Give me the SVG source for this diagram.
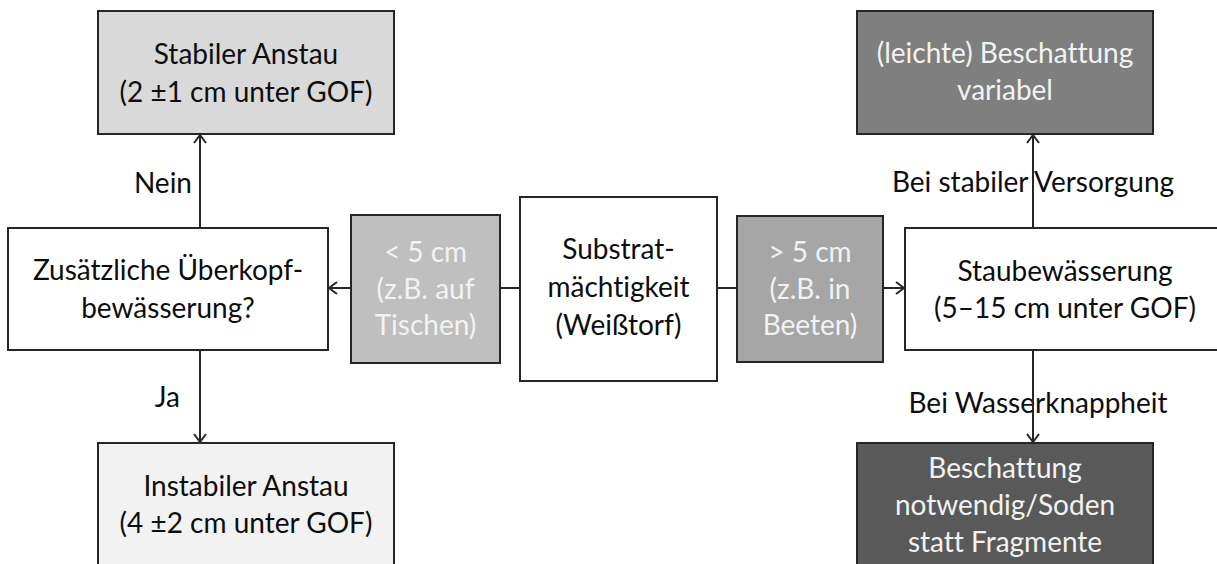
<svg xmlns="http://www.w3.org/2000/svg" width="1217" height="564" viewBox="0 0 1217 564">
<style>
  .box { stroke: #262626; stroke-width: 2; }
  text { font-family: Lato, "Open Sans", "Liberation Sans", sans-serif; font-size: 28px; text-anchor: middle; fill: #0d0d0d; font-variant-ligatures: none; }
  .light { fill: #f2f2f2; }
  .end { text-anchor: end; }
  .conn { stroke: #262626; stroke-width: 2; fill: none; }
</style>
<defs>
  <marker id="arr" viewBox="0 0 10 14" refX="9" refY="7" markerWidth="10" markerHeight="14" markerUnits="userSpaceOnUse" orient="auto">
    <path d="M1,1 L9,7 L1,13" fill="none" stroke="#262626" stroke-width="2"/>
  </marker>
</defs>
<rect width="1217" height="564" fill="#ffffff"/>

<g id="stabil">
  <rect class="box" x="98" y="11" width="296" height="123" fill="#d9d9d9"/>
  <text x="246" y="64">Stabiler Anstau</text>
  <text x="246" y="102">(2 ±1 cm unter GOF)</text>
</g>
<g id="zusaetzlich">
  <rect class="box" x="8" y="228" width="320" height="122" fill="#ffffff"/>
  <text x="168" y="280">Zusätzliche Überkopf-</text>
  <text x="168" y="318">bewässerung?</text>
</g>
<g id="instabil">
  <rect class="box" x="98" y="443" width="296" height="124" fill="#f2f2f2"/>
  <text x="246" y="496">Instabiler Anstau</text>
  <text x="246" y="533">(4 ±2 cm unter GOF)</text>
</g>
<g id="klein">
  <rect class="box" x="351" y="215" width="149" height="148" fill="#bfbfbf"/>
  <text class="light" x="425.5" y="262">&lt; 5 cm</text>
  <text class="light" x="425.5" y="299">(z.B. auf</text>
  <text class="light" x="425.5" y="335">Tischen)</text>
</g>
<g id="substrat">
  <rect class="box" x="520" y="197" width="197" height="184" fill="#ffffff"/>
  <text x="618.5" y="259">Substrat-</text>
  <text x="618.5" y="297">mächtigkeit</text>
  <text x="618.5" y="335">(Weißtorf)</text>
</g>
<g id="gross">
  <rect class="box" x="737" y="216" width="146" height="146" fill="#a6a6a6"/>
  <text class="light" x="810" y="262">&gt; 5 cm</text>
  <text class="light" x="810" y="299">(z.B. in</text>
  <text class="light" x="810" y="335">Beeten)</text>
</g>
<g id="staub">
  <rect class="box" x="905" y="228" width="330" height="122" fill="#ffffff"/>
  <text x="1065" y="281">Staubewässerung</text>
  <text x="1065" y="318">(5–15 cm unter GOF)</text>
</g>
<g id="leicht">
  <rect class="box" x="857" y="11" width="296" height="123" fill="#7f7f7f"/>
  <text class="light" x="1005" y="63">(leichte) Beschattung</text>
  <text class="light" x="1005" y="100">variabel</text>
</g>
<g id="notwendig">
  <rect class="box" x="857" y="443" width="296" height="124" fill="#595959"/>
  <text class="light" x="1005" y="478">Beschattung</text>
  <text class="light" x="1005" y="515">notwendig/Soden</text>
  <text class="light" x="1005" y="552">statt Fragmente</text>
</g>

<g id="labels">
  <text class="end" x="192" y="193">Nein</text>
  <text class="end" x="180" y="407">Ja</text>
  <text x="1033" y="192">Bei stabiler Versorgung</text>
  <text x="1038" y="413">Bei Wasserknappheit</text>
</g>

<g id="connectors">
  <line class="conn" x1="520" y1="288" x2="500" y2="288"/>
  <line class="conn" x1="351" y1="288" x2="329" y2="288" marker-end="url(#arr)"/>
  <line class="conn" x1="717" y1="288" x2="737" y2="288"/>
  <line class="conn" x1="883" y1="288" x2="904" y2="288" marker-end="url(#arr)"/>
  <line class="conn" x1="200" y1="228" x2="200" y2="135" marker-end="url(#arr)"/>
  <line class="conn" x1="200" y1="350" x2="200" y2="442" marker-end="url(#arr)"/>
  <line class="conn" x1="1033" y1="228" x2="1033" y2="135" marker-end="url(#arr)"/>
  <line class="conn" x1="1033" y1="350" x2="1033" y2="442" marker-end="url(#arr)"/>
</g>
</svg>
